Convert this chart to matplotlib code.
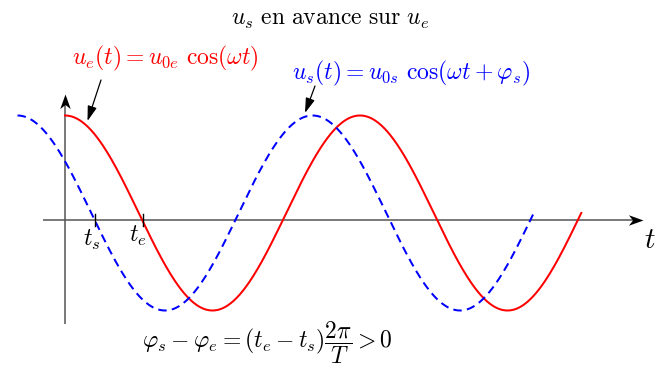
import numpy as np
import matplotlib
matplotlib.use("Agg")
import matplotlib.pyplot as plt
from matplotlib.path import Path

plt.rcParams['mathtext.fontset'] = 'cm'
plt.rcParams['font.family'] = ['DejaVu Serif']

# ---- data (time in units of the period T) ----
T = 1.0                 # period
U0e = 1.0               # amplitude of u_e
U0s = 1.0               # amplitude of u_s
lead = 0.161            # time lead of u_s over u_e (fraction of T)
span_periods = 1.75     # each curve covers 1.75 periods
axis_level = -0.07      # height of the time axis relative to curve centres
t_e_mark = 0.264        # tick positions on the time axis
t_s_mark = 0.102

title_txt = r"$u_s\ \mathrm{en\ avance\ sur}\ u_e$"
red_txt = r"$u_e(t) = u_{0e}\ \cos(\omega t)$"
blue_txt = r"$u_s(t) = u_{0s}\ \cos(\omega t + \varphi_s)$"
bottom_txt = r"$\varphi_s - \varphi_e = (t_e - t_s)\dfrac{2\pi}{T} > 0$"

omega = 2 * np.pi / T
phi_s = omega * lead
t_red = np.linspace(0, span_periods * T, 500)
u_red = U0e * np.cos(omega * t_red)
t_blue = np.linspace(-lead, span_periods * T - lead, 500)
u_blue = U0s * np.cos(omega * t_blue + phi_s)

# ---- figure ----
W, H = 666, 369
fig = plt.figure(figsize=(W / 100, H / 100), dpi=100)
ax = fig.add_axes([0, 0, 1, 1])
ax.set_axis_off()
# pixel mapping: x_px = 65 + 295 t ; y_px = 213 - 97.5 u
sx, x0 = 295.0, 65.0
sy, y0 = 97.5, 213.0
ax.set_xlim(-x0 / sx, (W - x0) / sx)
ax.set_ylim((y0 - H) / sy, y0 / sy)

def px(x):
    return (x - x0) / sx

def py(y):
    return (y0 - y) / sy

axis_col = '#555555'
# stealth arrow head marker (pointing +x, tip at origin)
def stealth(angle_deg):
    v = np.array([(0, 0), (-1, 0.36), (-0.72, 0), (-1, -0.36), (0, 0)])
    a = np.deg2rad(angle_deg)
    R = np.array([[np.cos(a), -np.sin(a)], [np.sin(a), np.cos(a)]])
    v = v @ R.T
    return Path(v, [Path.MOVETO, Path.LINETO, Path.LINETO, Path.LINETO, Path.CLOSEPOLY])

# axes
ax.plot([px(43), px(635)], [axis_level, axis_level], color=axis_col, lw=1.1, solid_capstyle='butt')
ax.plot([px(65), px(65)], [py(324), py(100)], color=axis_col, lw=1.1, solid_capstyle='butt')
ax.plot([px(643)], [axis_level], marker=stealth(0), markersize=21, color='black', mew=0)
ax.plot([px(65)], [py(94)], marker=stealth(90), markersize=21, color='black', mew=0)

# curves
ax.plot(t_red, u_red, color='#ff0000', lw=1.45, zorder=3)
ax.plot(t_blue, u_blue, color='#0000ff', lw=1.45, linestyle=(0, (4.2, 2.6)), zorder=4)

# ticks t_s, t_e
for tm in (t_s_mark, t_e_mark):
    ax.plot([tm, tm], [axis_level + 0.06, axis_level - 0.06], color='black', lw=1.0, zorder=5)

# texts
fs = 17
ax.text(px(330), py(20), title_txt, ha='center', va='center', fontsize=fs)
ax.text(px(165), py(58), red_txt, ha='center', va='center', fontsize=fs, color='#ff0000')
ax.text(px(411), py(73), blue_txt, ha='center', va='center', fontsize=fs, color='#0000ff')
ax.text(px(650), py(240), r"$t$", ha='center', va='center', fontsize=21)
ax.text(px(92), py(240), r"$t_s$", ha='center', va='center', fontsize=fs)
ax.text(px(138), py(236), r"$t_e$", ha='center', va='center', fontsize=fs)
ax.text(px(267), py(343), bottom_txt, ha='center', va='center', fontsize=fs)

# annotation arrows
arw = dict(arrowstyle='-|>,head_length=0.9,head_width=0.28', color='black', lw=0.9,
           shrinkA=0, shrinkB=0)
ax.annotate('', xy=(px(87.5), py(121)), xytext=(px(101), py(80)), arrowprops=arw)
ax.annotate('', xy=(px(305), py(113)), xytext=(px(315), py(86)), arrowprops=arw)

fig.savefig('out.png', dpi=100)
